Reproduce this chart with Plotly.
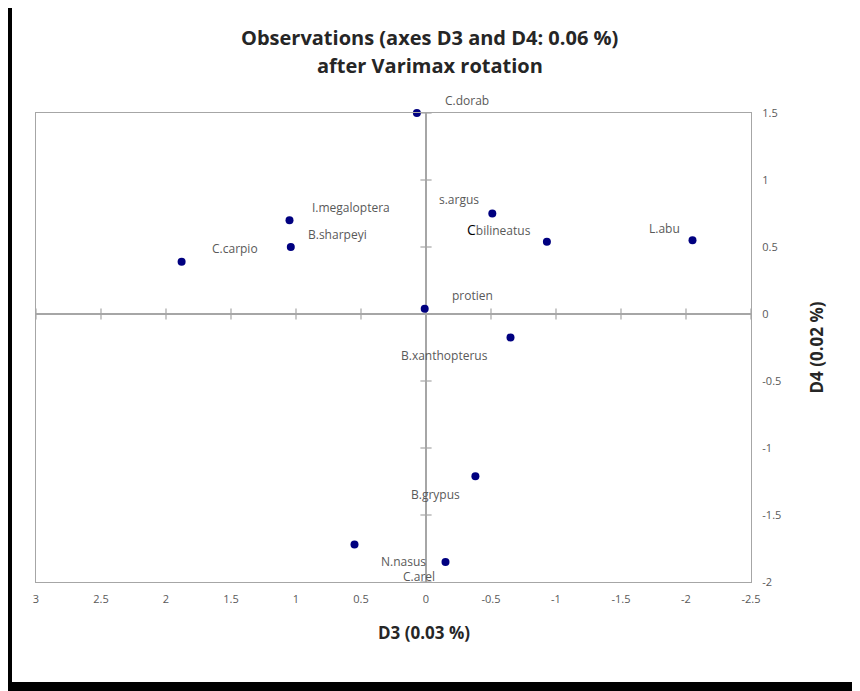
import plotly.graph_objects as go

# ---- data ----
names = ["C.dorab", "I.megaloptera", "B.sharpeyi", "C.carpio", "protien", "s.argus",
         "Cbilineatus", "L.abu", "B.xanthopterus", "B.grypus", "N.nasus", "C.arel"]
d3 = [0.07, 1.05, 1.04, 1.88, 0.01, -0.51, -0.93, -2.05, -0.65, -0.38, -0.15, 0.55]
d4 = [1.50, 0.70, 0.50, 0.39, 0.04, 0.75, 0.54, 0.55, -0.175, -1.21, -1.85, -1.72]

x_ticks = [3, 2.5, 2, 1.5, 1, 0.5, 0, -0.5, -1, -1.5, -2, -2.5]
x_tick_labels = ["3", "2.5", "2", "1.5", "1", "0.5", "0", "-0.5", "-1", "-1.5", "-2", "-2.5"]
y_ticks = [1.5, 1, 0.5, 0, -0.5, -1, -1.5, -2]
y_tick_labels = ["1.5", "1", "0.5", "0", "-0.5", "-1", "-1.5", "-2"]

# label offsets in pixels (style)
label_shift = [(50, 13), (61, 13), (47, 13), (53, 13), (48, 13), (-33, 14),
               (-48, 12), (-28, 12), (-66, -18), (-40, -18), (-42, 0), (64, -32)]

FONT = "'Open Sans', Lato, sans-serif"
GRAY = "#a6a6a6"
TXT = "#595959"
DARK = "#262626"

fig = go.Figure()

# tick marks crossing the zero axes
fig.add_trace(go.Scatter(
    x=x_ticks, y=[0] * len(x_ticks), mode="markers",
    marker=dict(symbol="line-ns", size=8, line=dict(color=GRAY, width=1.2)),
    hoverinfo="skip", showlegend=False))
fig.add_trace(go.Scatter(
    x=[0] * len(y_ticks), y=y_ticks, mode="markers",
    marker=dict(symbol="line-ew", size=8, line=dict(color=GRAY, width=1.2)),
    hoverinfo="skip", showlegend=False))

# observations
fig.add_trace(go.Scatter(
    x=d3, y=d4, mode="markers", cliponaxis=False,
    marker=dict(size=8, color="#000080"),
    text=names, hoverinfo="text", showlegend=False))

for n, xv, yv, (dx, dy) in zip(names, d3, d4, label_shift):
    txt = n
    if n == "Cbilineatus":
        txt = "<span style='color:black;font-size:14px'>C</span>bilineatus"
    fig.add_annotation(x=xv, y=yv, text=txt, showarrow=False,
                       xshift=dx, yshift=dy,
                       font=dict(family=FONT, size=12, color=TXT))

# title (two lines)
fig.add_annotation(xref="paper", yref="paper", x=0.551, y=1, yshift=76, yanchor="middle",
                   text="<b>Observations (axes D3 and D4: 0.06 %)</b>", showarrow=False,
                   font=dict(family=FONT, size=20, color=DARK))
fig.add_annotation(xref="paper", yref="paper", x=0.551, y=1, yshift=48, yanchor="middle",
                   text="<b>after Varimax rotation</b>", showarrow=False,
                   font=dict(family=FONT, size=20, color=DARK))

# x axis title
fig.add_annotation(xref="paper", yref="paper", x=0.543, y=0, yshift=-50, yanchor="middle",
                   text="<b>D3 (0.03 %)</b>", showarrow=False,
                   font=dict(family=FONT, size=17, color=DARK))

# outer thick black frame (left and bottom)
fig.add_shape(type="rect", xref="paper", yref="paper",
              x0=-28 / 715, x1=-24 / 715, y0=-109 / 469, y1=1 + 105 / 469,
              fillcolor="black", line=dict(width=0), layer="above")
fig.add_shape(type="rect", xref="paper", yref="paper",
              x0=-28 / 715, x1=1 + 109 / 715, y0=-109 / 469, y1=-100 / 469,
              fillcolor="black", line=dict(width=0), layer="above")

fig.update_layout(
    width=852, height=683,
    margin=dict(l=28, r=109, t=105, b=109),
    paper_bgcolor="white", plot_bgcolor="white",
    font=dict(family=FONT, color=TXT),
    xaxis=dict(range=[3, -2.5], tickvals=x_ticks, ticktext=x_tick_labels,
               showgrid=False, zeroline=True, zerolinecolor=GRAY, zerolinewidth=1.5,
               showline=True, mirror=True, linecolor=GRAY, linewidth=1.2,
               ticks="", ticklabelstandoff=7, tickfont=dict(size=11, color=TXT)),
    yaxis=dict(range=[-2, 1.5], tickvals=y_ticks, ticktext=y_tick_labels, side="right",
               showgrid=False, zeroline=True, zerolinecolor=GRAY, zerolinewidth=1.5,
               showline=True, mirror=True, linecolor=GRAY, linewidth=1.2,
               ticks="", ticklabelstandoff=8, tickfont=dict(size=11, color=TXT),
               title=dict(text="<b>D4 (0.02 %)</b>", standoff=30,
                          font=dict(size=17, color=DARK))),
)

fig.write_html("out.html")
